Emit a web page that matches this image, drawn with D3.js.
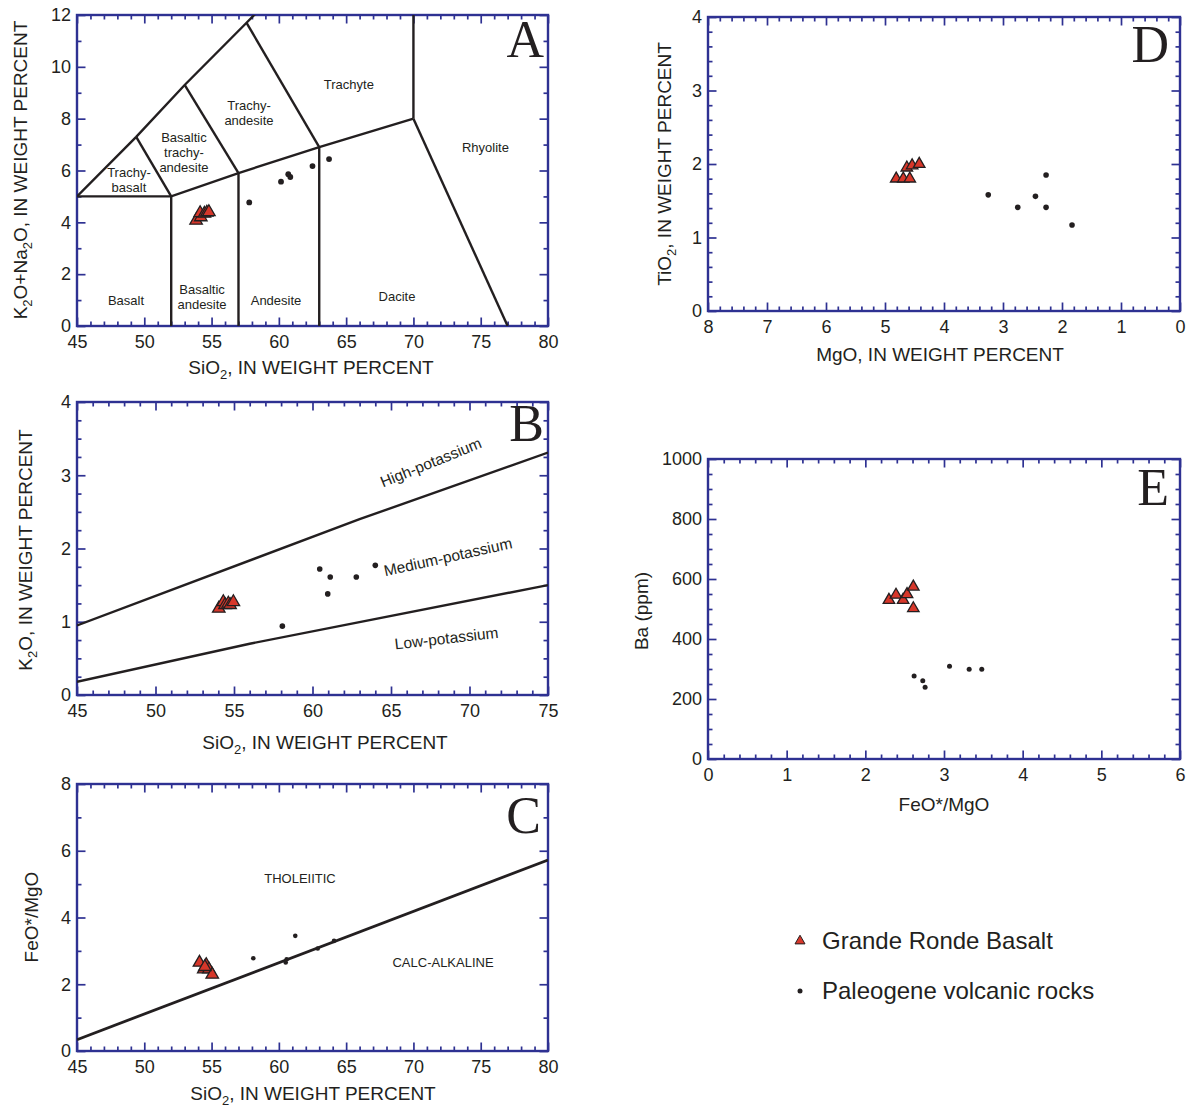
<!DOCTYPE html>
<html><head><meta charset="utf-8">
<script src="https://cdn.jsdelivr.net/npm/d3@7"></script>
<style>
body{margin:0;background:#fff}
svg text{font-family:"Liberation Sans",Arial,sans-serif;fill:#231f20}
svg text.letter{font-family:"Liberation Serif","Times New Roman",serif}
</style></head><body>
<svg id="chart" width="1189" height="1110"></svg>
<script>
// ---------------- DATA ----------------
// Panel A: total alkali vs silica
const aGrande = [[53.85,4.07],[54.2,4.2],[54.15,4.36],[54.47,4.34],[54.65,4.38],[54.8,4.4]];
const aPaleo  = [[57.8,4.77],[60.16,5.57],[60.7,5.86],[60.85,5.75],[62.5,6.17],[63.73,6.44]];
const aXTicks = [45,50,55,60,65,70,75,80];
const aYTicks = [0,2,4,6,8,10,12];
const tasLines = [
  [[45,5],[49.4,7.3],[53,9.3],[57.6,11.7],[61,13.5]],
  [[45,5],[52,5],[57,5.9],[63,6.9],[70,8]],
  [[52,0],[52,5]],
  [[57,0],[57,5.9]],
  [[63,0],[63,6.9]],
  [[70,8],[70,12]],
  [[70,8],[77,0]],
  [[49.4,7.3],[52,5]],
  [[53,9.3],[57,5.9]],
  [[57.6,11.7],[63,6.9]]
];
const tasLabels = [
  {lines:["Basalt"], x:48.64, y:1.0},
  {lines:["Basaltic","andesite"], x:54.29, y:1.1},
  {lines:["Andesite"], x:59.79, y:1.0},
  {lines:["Dacite"], x:68.78, y:1.12},
  {lines:["Rhyolite"], x:75.35, y:6.87},
  {lines:["Trachyte"], x:65.2, y:9.33},
  {lines:["Trachy-","andesite"], x:57.78, y:8.2},
  {lines:["Basaltic","trachy-","andesite"], x:52.95, y:6.68},
  {lines:["Trachy-","basalt"], x:48.86, y:5.65}
];

// Panel B: K2O vs silica
const bGrande = [[54.03,1.18],[54.32,1.27],[54.43,1.23],[54.64,1.25],[54.75,1.23],[54.96,1.27]];
const bPaleo  = [[58.08,0.94],[60.46,1.72],[61.13,1.61],[60.97,1.38],[62.79,1.61],[64.0,1.77]];
const bXTicks = [45,50,55,60,65,70,75];
const bYTicks = [0,1,2,3,4];
const kHighLine = [[45,0.95],[63,2.4],[75,3.31]];
const kLowLine  = [[45,0.18],[56,0.7],[75,1.5]];
const kLabels = [
  {t:"High-potassium", x:67.55, y:3.17, rot:-22},
  {t:"Medium-potassium", x:68.63, y:1.88, rot:-12.5},
  {t:"Low-potassium", x:68.54, y:0.77, rot:-6.5}
];

// Panel C: FeO*/MgO vs silica
const cGrande = [[54.1,2.65],[54.42,2.45],[54.6,2.58],[54.8,2.45],[55.05,2.29],[54.5,2.52]];
const cPaleo  = [[58.1,2.78],[60.51,2.65],[60.58,2.75],[61.22,3.45],[62.89,3.07],[64.1,3.3]];
const cXTicks = [45,50,55,60,65,70,75,80];
const cYTicks = [0,2,4,6,8];
const thLine = [[45,0.34],[80,5.72]];
const cLabels = [
  {t:"THOLEIITIC", x:61.57, y:5.18},
  {t:"CALC-ALKALINE", x:72.2, y:2.64}
];

// Panel D: TiO2 vs MgO
const dGrande = [[4.81,1.8],[4.69,1.8],[4.58,1.8],[4.63,1.95],[4.54,1.98],[4.42,2.0]];
const dPaleo  = [[3.25,1.58],[2.75,1.41],[2.45,1.56],[2.27,1.85],[2.27,1.41],[1.83,1.17]];
const dXTicks = [8,7,6,5,4,3,2,1,0];
const dYTicks = [0,1,2,3,4];

// Panel E: Ba vs FeO*/MgO
const eGrande = [[2.3,530],[2.39,547],[2.48,530],[2.53,549],[2.61,574],[2.61,502]];
const ePaleo  = [[2.62,277],[2.73,261],[2.76,239],[3.07,309],[3.32,299],[3.48,299]];
const eXTicks = [0,1,2,3,4,5,6];
const eYTicks = [0,200,400,600,800,1000];

const legendItems = ["Grande Ronde Basalt","Paleogene volcanic rocks"];

// ---------------- STYLE / LAYOUT ----------------
const FRAME = "#2e3192", INK = "#231f20", RED = "#d7372a";
const svg = d3.select("#chart");

function rich(textSel, str, subSize){
  let i = 0, shifted = false;
  while (i < str.length){
    if (str[i] === "_"){
      textSel.append("tspan").attr("font-size", subSize).attr("dy", 5).text(str[i+1]);
      shifted = true; i += 2;
    } else {
      let j = i; while (j < str.length && str[j] !== "_") j++;
      const t = textSel.append("tspan").text(str.slice(i,j));
      if (shifted){ t.attr("dy", -5); shifted = false; }
      i = j;
    }
  }
}

function minorVals(domain, step, majors){
  const lo = Math.min(...domain), hi = Math.max(...domain);
  const n = Math.round((hi-lo)/step);
  const out = [];
  for (let k=0;k<=n;k++){
    const v = lo + k*step;
    if (!majors.some(m => Math.abs(m-v) < step*1e-3)) out.push(v);
  }
  return out;
}

const panels = [
  {key:"A", box:[77,548,15,326], xD:[45,80], yD:[0,12], xT:aXTicks, yT:aYTicks, xm:1, ym:1,
   xTitle:"SiO_2, IN WEIGHT PERCENT", xTitlePos:[311,374], yTitle:"K_2O+Na_2O, IN WEIGHT PERCENT", yTitlePos:[20,170],
   grande:aGrande, paleo:aPaleo, tri:12.5, r:2.9, letter:[544,57]},
  {key:"B", box:[77,548,402,695], xD:[45,75], yD:[0,4], xT:bXTicks, yT:bYTicks, xm:1, ym:0.25,
   xTitle:"SiO_2, IN WEIGHT PERCENT", xTitlePos:[325,749], yTitle:"K_2O, IN WEIGHT PERCENT", yTitlePos:[25,550],
   grande:bGrande, paleo:bPaleo, tri:12.5, r:2.8, letter:[544,441]},
  {key:"C", box:[77,548,784,1051], xD:[45,80], yD:[0,8], xT:cXTicks, yT:cYTicks, xm:1, ym:1,
   xTitle:"SiO_2, IN WEIGHT PERCENT", xTitlePos:[313,1100], yTitle:"FeO*/MgO", yTitlePos:[31,917],
   grande:cGrande, paleo:cPaleo, tri:12.5, r:2.3, letter:[541,833]},
  {key:"D", box:[708,1180,17,311], xD:[8,0], yD:[0,4], xT:dXTicks, yT:dYTicks, xm:0.2, ym:0.2,
   xTitle:"MgO, IN WEIGHT PERCENT", xTitlePos:[940,361], yTitle:"TiO_2, IN WEIGHT PERCENT", yTitlePos:[664,164],
   grande:dGrande, paleo:dPaleo, tri:11.5, r:2.8, letter:[1169,62]},
  {key:"E", box:[708,1180,459,759], xD:[0,6], yD:[0,1000], xT:eXTicks, yT:eYTicks, xm:0.2, ym:50,
   xTitle:"FeO*/MgO", xTitlePos:[944,811], yTitle:"Ba (ppm)", yTitlePos:[641,611],
   grande:eGrande, paleo:ePaleo, tri:11.5, r:2.5, letter:[1169,505]}
];

const scales = {};
panels.forEach(p => {
  const [L,R,T,B] = p.box;
  const x = d3.scaleLinear().domain(p.xD).range([L,R]);
  const y = d3.scaleLinear().domain(p.yD).range([B,T]);
  scales[p.key] = {x,y};
  const g = svg.append("g").attr("class","panel-"+p.key);

  svg.append("clipPath").attr("id","clip"+p.key)
    .append("rect").attr("x",L).attr("y",T).attr("width",R-L).attr("height",B-T);

  const axes = g.append("g").attr("color", FRAME);
  const xMin = minorVals(p.xD, p.xm, p.xT), yMin = minorVals(p.yD, p.ym, p.yT);
  const styleAxis = s => { s.select(".domain").remove(); s.selectAll(".tick line").attr("stroke-width",1.7); };
  axes.append("g").attr("transform",`translate(0,${B})`).call(d3.axisBottom(x).tickValues(xMin).tickSize(-4.5).tickFormat("")).call(styleAxis);
  axes.append("g").attr("transform",`translate(0,${T})`).call(d3.axisTop(x).tickValues(xMin).tickSize(-4.5).tickFormat("")).call(styleAxis);
  axes.append("g").attr("transform",`translate(${L},0)`).call(d3.axisLeft(y).tickValues(yMin).tickSize(-4.5).tickFormat("")).call(styleAxis);
  axes.append("g").attr("transform",`translate(${R},0)`).call(d3.axisRight(y).tickValues(yMin).tickSize(-4.5).tickFormat("")).call(styleAxis);
  const xb = axes.append("g").attr("transform",`translate(0,${B})`)
    .call(d3.axisBottom(x).tickValues(p.xT).tickSize(-8.5).tickPadding(9).tickFormat(d3.format("d"))).call(styleAxis);
  axes.append("g").attr("transform",`translate(0,${T})`).call(d3.axisTop(x).tickValues(p.xT).tickSize(-8.5).tickFormat("")).call(styleAxis);
  const yl = axes.append("g").attr("transform",`translate(${L},0)`)
    .call(d3.axisLeft(y).tickValues(p.yT).tickSize(-8.5).tickPadding(6).tickFormat(d3.format("d"))).call(styleAxis);
  axes.append("g").attr("transform",`translate(${R},0)`).call(d3.axisRight(y).tickValues(p.yT).tickSize(-8.5).tickFormat("")).call(styleAxis);
  [xb,yl].forEach(a => a.selectAll("text").attr("font-size",18).attr("fill",INK));

  g.append("rect").attr("x",L).attr("y",T).attr("width",R-L).attr("height",B-T)
    .attr("fill","none").attr("stroke",FRAME).attr("stroke-width",2.4);

  const xt = g.append("text").attr("x",p.xTitlePos[0]).attr("y",p.xTitlePos[1])
    .attr("text-anchor","middle").attr("font-size",19);
  rich(xt, p.xTitle, 13);
  const yt = g.append("text").attr("transform",`translate(${p.yTitlePos[0]},${p.yTitlePos[1]}) rotate(-90)`)
    .attr("y",7).attr("text-anchor","middle").attr("font-size",19);
  rich(yt, p.yTitle, 13);

  g.append("text").attr("class","letter").attr("x",p.letter[0]).attr("y",p.letter[1]).attr("text-anchor","end")
    .attr("font-size",52).text(p.key);
});

// ---------- panel annotations ----------
const lineGen = (s) => d3.line().x(d=>s.x(d[0])).y(d=>s.y(d[1]));
{
  const s = scales.A, g = svg.append("g").attr("clip-path","url(#clipA)");
  g.selectAll("path").data(tasLines).join("path").attr("d", lineGen(s))
    .attr("fill","none").attr("stroke",INK).attr("stroke-width",2.4).attr("stroke-linejoin","miter");
  const lg = svg.append("g");
  tasLabels.forEach(l => {
    const t = lg.append("text").attr("text-anchor","middle").attr("font-size",13);
    const n = l.lines.length;
    l.lines.forEach((ln,i) => t.append("tspan").attr("x", s.x(l.x))
      .attr("y", s.y(l.y) + (i-(n-1)/2)*15 + 4.5).text(ln));
  });
}
{
  const s = scales.B, g = svg.append("g").attr("clip-path","url(#clipB)");
  g.selectAll("path").data([kHighLine,kLowLine]).join("path").attr("d", lineGen(s))
    .attr("fill","none").attr("stroke",INK).attr("stroke-width",2.4).attr("stroke-linejoin","round");
  kLabels.forEach(l => svg.append("text")
    .attr("transform",`translate(${s.x(l.x)},${s.y(l.y)}) rotate(${l.rot})`)
    .attr("y",5).attr("text-anchor","middle").attr("font-size",15.5).text(l.t));
}
{
  const s = scales.C, g = svg.append("g").attr("clip-path","url(#clipC)");
  g.append("path").datum(thLine).attr("d", lineGen(s))
    .attr("fill","none").attr("stroke",INK).attr("stroke-width",2.8);
  cLabels.forEach(l => svg.append("text").attr("x",s.x(l.x)).attr("y",s.y(l.y)+4.5)
    .attr("text-anchor","middle").attr("font-size",13).text(l.t));
}

// ---------- points ----------
panels.forEach(p => {
  const s = scales[p.key];
  const g = svg.append("g");
  g.selectAll("circle").data(p.paleo).join("circle")
    .attr("cx",d=>s.x(d[0])).attr("cy",d=>s.y(d[1])).attr("r",p.r).attr("fill",INK);
  const area = p.tri*p.tri*Math.sqrt(3)/4;
  g.selectAll("path.tri").data(p.grande).join("path").attr("class","tri")
    .attr("transform",d=>`translate(${s.x(d[0])},${s.y(d[1])})`)
    .attr("d", d3.symbol(d3.symbolTriangle, area)())
    .attr("fill",RED).attr("stroke",INK).attr("stroke-width",1.3).attr("stroke-linejoin","miter");
});

// ---------- legend ----------
{
  const g = svg.append("g");
  const rows = [940, 990];
  g.append("path").attr("transform",`translate(800,${rows[0]+1})`)
    .attr("d", d3.symbol(d3.symbolTriangle, 10*10*Math.sqrt(3)/4)())
    .attr("fill",RED).attr("stroke",INK).attr("stroke-width",1);
  g.append("circle").attr("cx",800).attr("cy",rows[1]+1).attr("r",2.5).attr("fill",INK);
  legendItems.forEach((t,i) => g.append("text").attr("x",822).attr("y",rows[i]+8.5)
    .attr("font-size",24).text(t));
}
</script>
</body></html>
